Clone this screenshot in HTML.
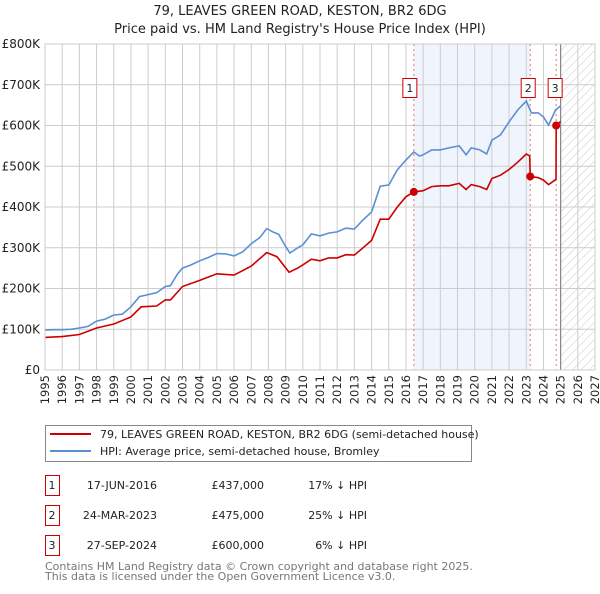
<!DOCTYPE html>
<html><head><meta charset="utf-8"><style>
body{margin:0;background:#fff;font-family:"DejaVu Sans","Liberation Sans",sans-serif;}
svg text{font-family:"DejaVu Sans","Liberation Sans",sans-serif;}
</style></head><body>
<svg id="c" width="600" height="590" xmlns="http://www.w3.org/2000/svg">
<defs><pattern id="hatch" width="6" height="6" patternUnits="userSpaceOnUse" patternTransform="rotate(45)"><line x1="0" y1="0" x2="0" y2="6" stroke="#bbb" stroke-width="0.8"/></pattern></defs>
<text x="300" y="15" text-anchor="middle" font-size="13" fill="#222">79, LEAVES GREEN ROAD, KESTON, BR2 6DG</text>
<text x="300" y="33" text-anchor="middle" font-size="13" fill="#222">Price paid vs. HM Land Registry's House Price Index (HPI)</text>
<g id="plot"></g>
<g>
<rect x="45.5" y="425.5" width="426" height="36" fill="#fff" stroke="#888"/>
<line x1="50" y1="434" x2="91" y2="434" stroke="#cc0000" stroke-width="2"/>
<text x="100" y="438" font-size="11" fill="#222">79, LEAVES GREEN ROAD, KESTON, BR2 6DG (semi-detached house)</text>
<line x1="50" y1="451" x2="91" y2="451" stroke="#5b8fd4" stroke-width="2"/>
<text x="100" y="455" font-size="11" fill="#222">HPI: Average price, semi-detached house, Bromley</text>
</g>
<g id="table" font-size="11" fill="#222"></g>
<text x="45" y="570" font-size="11" fill="#777">Contains HM Land Registry data © Crown copyright and database right 2025.</text>
<text x="45" y="580" font-size="11" fill="#777">This data is licensed under the Open Government Licence v3.0.</text>
</svg>
<script>
const hpiYears=[1995,1995.5,1996,1996.5,1997,1997.5,1998,1998.5,1999,1999.5,2000,2000.5,2001,2001.5,2002,2002.3,2002.7,2003,2003.5,2004,2004.5,2005,2005.5,2006,2006.5,2007,2007.5,2007.9,2008.3,2008.6,2009,2009.25,2009.7,2010,2010.5,2011,2011.5,2012,2012.5,2013,2013.5,2014,2014.5,2015,2015.5,2016,2016.46,2016.8,2017,2017.5,2018,2018.5,2019.1,2019.5,2019.8,2020.3,2020.7,2021,2021.5,2022,2022.5,2023,2023.3,2023.7,2024,2024.3,2024.7,2025];
const hpiValues=[98,99,99,100,103,107,120,125,135,137,155,180,185,190,205,207,235,250,258,268,276,286,285,280,290,310,325,347,338,333,303,287,300,307,334,329,336,339,348,346,368,388,451,454,491,515,535,525,528,540,540,545,550,528,545,540,530,564,577,609,638,660,631,631,621,601,638,648];
const ppYears=[1995,1996,1997,1998,1999,2000,2000.6,2001.5,2002,2002.3,2003,2004,2005,2006,2007,2007.9,2008.5,2009.2,2009.7,2010,2010.5,2011,2011.5,2012,2012.5,2013,2013.5,2014,2014.5,2015,2015.5,2016,2016.46,2017,2017.5,2018,2018.5,2019.1,2019.5,2019.8,2020.3,2020.7,2021,2021.5,2022,2022.5,2023,2023.2,2023.23,2023.7,2024,2024.3,2024.73,2024.74,2025];
const ppValues=[80,82,87,103,113,130,155,157,172,172,205,220,236,233,255,288,278,240,250,258,272,268,275,275,283,282,300,318,370,370,400,425,437,440,450,452,452,458,443,455,450,443,470,478,492,510,530,525,475,472,466,455,468,600,610];
const saleLabels=["1","2","3"];
const saleYears=[2016.46,2023.23,2024.74];
const salePrices=[437,475,600];
const saleDates=["17-JUN-2016","24-MAR-2023","27-SEP-2024"];
const salePriceText=["£437,000","£475,000","£600,000"];
const saleHpiText=["17% ↓ HPI","25% ↓ HPI","6% ↓ HPI"];
const yTicks=[0,100,200,300,400,500,600,700,800];
const yTickLabels=["£0","£100K","£200K","£300K","£400K","£500K","£600K","£700K","£800K"];
const xStart=1995,xEnd=2027;

const NS="http://www.w3.org/2000/svg";
const X0=45,X1=595,Y0=370,Y1=44;
const xs=y=>X0+(y-xStart)/(xEnd-xStart)*(X1-X0);
const ys=v=>Y0-v/800*(Y0-Y1);
const plot=document.getElementById('plot');
function mk(tag,attrs,parent){const e=document.createElementNS(NS,tag);for(const k in attrs)e.setAttribute(k,attrs[k]);(parent||plot).appendChild(e);return e;}
let sh=mk('rect',{x:xs(saleYears[0]),y:Y1,width:xs(saleYears[1])-xs(saleYears[0]),height:Y0-Y1,fill:'#f0f4fc'});


let ht=mk('rect',{x:xs(2025),y:Y1,width:X1-xs(2025),height:Y0-Y1,fill:'url(#hatch)'});


for(let i=0;i<yTicks.length;i++){
  const y=ys(yTicks[i]);
  let g=mk('line',{x1:X0,x2:X1,y1:y,y2:y,stroke:'#ccc','stroke-width':1});
  
  
  let t=mk('text',{x:X0-5,y:y+4,'text-anchor':'end','font-size':12,fill:'#222'});
  t.textContent=yTickLabels[i];
  
  
}
for(let yr=xStart;yr<=xEnd;yr++){
  const x=xs(yr);
  let g=mk('line',{x1:x,x2:x,y1:Y1,y2:Y0,stroke:'#ccc','stroke-width':1});
  
  
  let t=mk('text',{x:0,y:0,'text-anchor':'end','font-size':11.5,fill:'#222',transform:`translate(${x+4},${375}) rotate(-90)`});
  t.textContent=yr;
  
  
}
let fl=mk('line',{x1:xs(2025),x2:xs(2025),y1:Y1,y2:Y0,stroke:'#888','stroke-width':1.2});


for(let i=0;i<saleYears.length;i++){
  let l=mk('line',{x1:xs(saleYears[i]),x2:xs(saleYears[i]),y1:Y1,y2:Y0,stroke:'#e87070','stroke-width':1,'stroke-dasharray':'2,3'});
  
  
}
function path(xa,va,color,name){
  const d=xa.map((x,i)=>(i?'L':'M')+xs(x).toFixed(1)+' '+ys(va[i]).toFixed(1)).join(' ');
  let p=mk('path',{d:d,fill:'none',stroke:color,'stroke-width':1.6});
  
  
}
path(hpiYears,hpiValues,'#5b8fd4','hpi-line');
path(ppYears,ppValues,'#cc0000','price-paid-line');
for(let i=0;i<saleYears.length;i++){
  let c=mk('circle',{cx:xs(saleYears[i]),cy:ys(salePrices[i]),r:4,fill:'#cc0000'});
  
  
  const bx=xs(saleYears[i]);
  let r=mk('rect',{x:0,y:78.5,width:14,height:19,fill:'#fff',stroke:'#cc0000'});
  r.setAttribute('x',i==0?bx-11:(i==1?bx-9:bx-8));
  
  
  let t=mk('text',{x:+r.getAttribute('x')+7,y:92,'text-anchor':'middle','font-size':11,fill:'#222'});
  t.textContent=saleLabels[i];
  
  
}
let bd=mk('rect',{x:X0,y:Y1,width:X1-X0,height:Y0-Y1,fill:'none',stroke:'#ccc'});


const tb=document.getElementById('table');
for(let i=0;i<saleLabels.length;i++){
  const y=483+i*30;
  let r=mk('rect',{x:45.5,y:y-7.5,width:14,height:20,fill:'#fff',stroke:'#cc0000'},tb);
  
  
  const cells=[[52,'middle',saleLabels[i]],[157,'end',saleDates[i]],[264,'end',salePriceText[i]],[367,'end',saleHpiText[i]]];
  for(const c of cells){
    let t=mk('text',{x:c[0],y:y+6,'text-anchor':c[1],'font-size':11,fill:'#222'},tb);
    t.textContent=c[2];
    
    
  }
}
</script>
</body></html>
